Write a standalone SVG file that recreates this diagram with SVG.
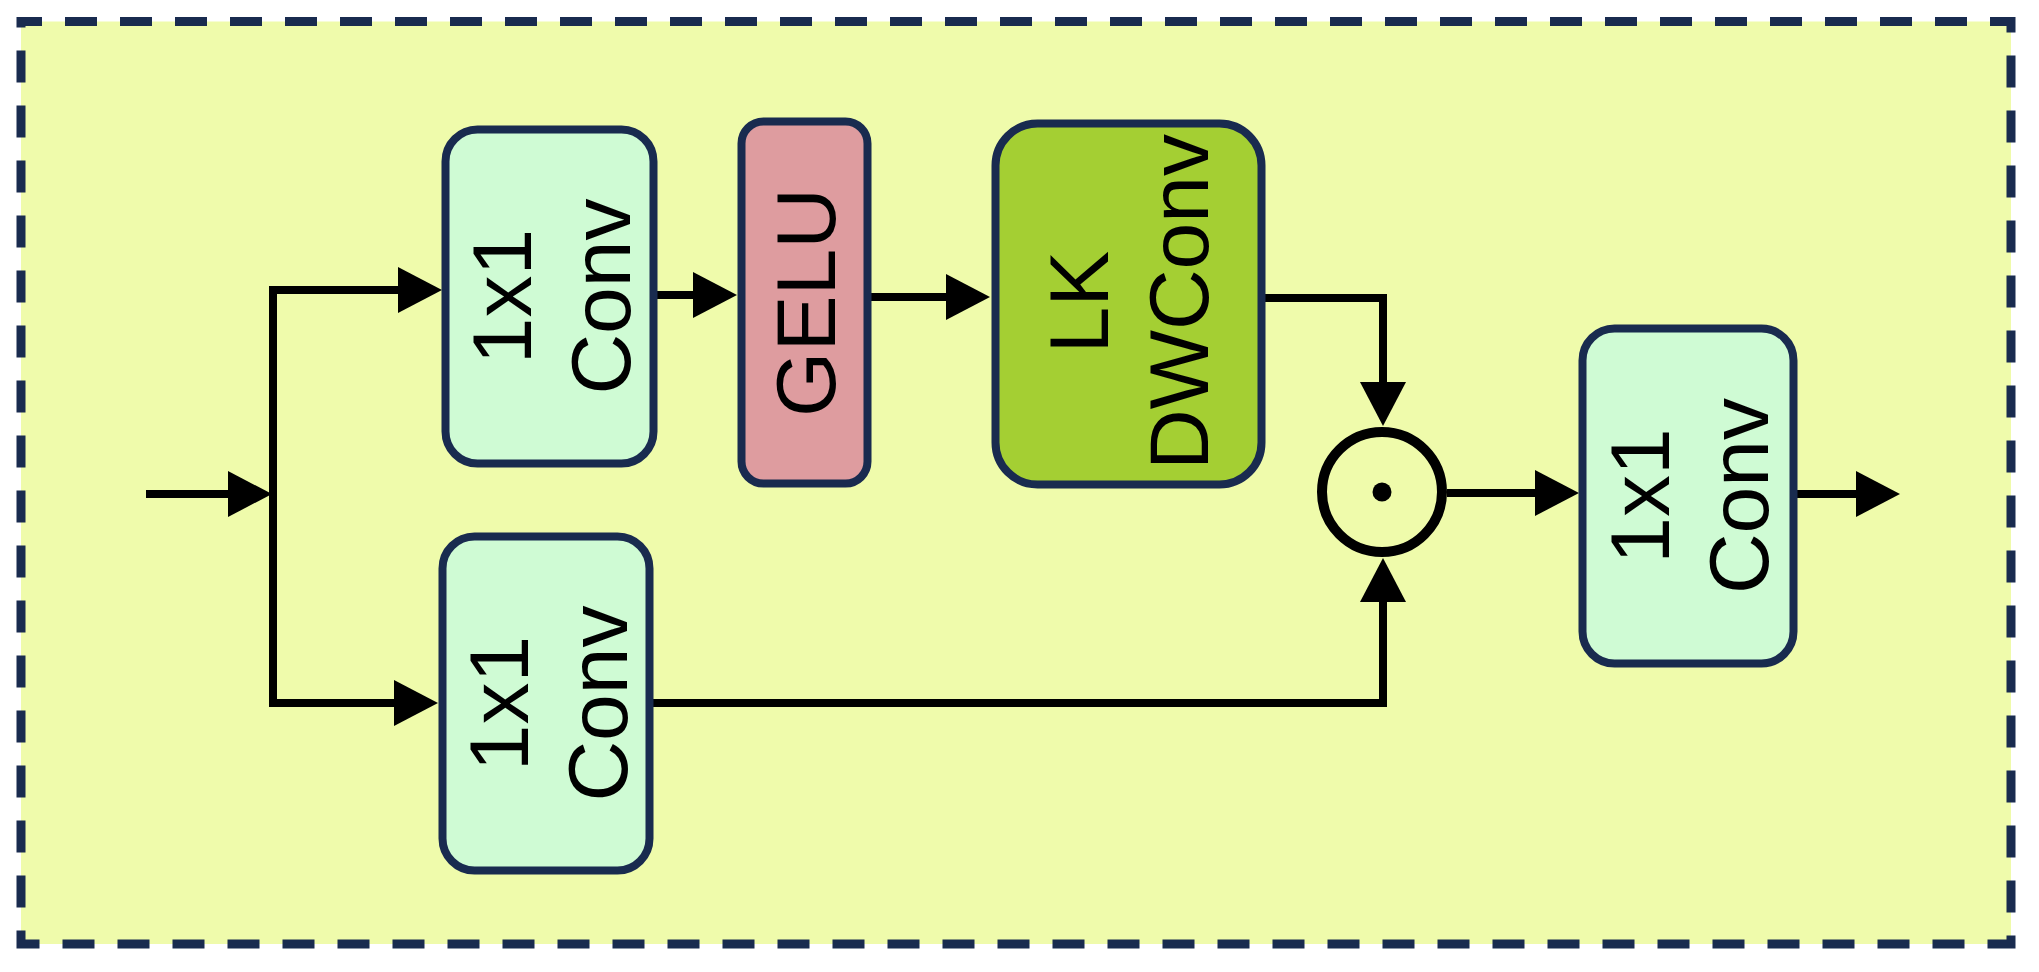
<svg xmlns="http://www.w3.org/2000/svg" width="2039" height="972" viewBox="0 0 2039 972">
  <style>
    .frame { fill: #EFFBAB; stroke: #192B4F; stroke-width: 9; stroke-dasharray: 32 23; stroke-dashoffset: 11; }
    .box { stroke: #192B4F; stroke-width: 8; }
    .conv { fill: #CFFBD4; }
    .gelu { fill: #DE9C9F; }
    .lk { fill: #A4CF33; }
    .lbl { font-family: "Liberation Sans", Arial, sans-serif; font-size: 84px; fill: #000; text-anchor: middle; }
    .wire { fill: none; stroke: #000; stroke-width: 8; stroke-linejoin: miter; stroke-linecap: butt; }
    .op { fill: none; stroke: #000; stroke-width: 10; }
  </style>
  <defs>
    <marker id="ah" viewBox="0 0 44 46" refX="24" refY="23" markerWidth="44" markerHeight="46" markerUnits="userSpaceOnUse" orient="auto-start-reverse">
      <path d="M0,0 L44,23 L0,46 Z" fill="#000"/>
    </marker>
  </defs>

  <rect id="frame" class="frame" x="21" y="21.5" width="1990" height="922.5"/>

  <g id="connectors">
    <path class="wire" d="M146,494 H252" marker-end="url(#ah)"/>
    <path class="wire" d="M422,290 H273 V703 H418" marker-start="url(#ah)" marker-end="url(#ah)"/>
    <path class="wire" d="M657,295 H717" marker-end="url(#ah)"/>
    <path class="wire" d="M871,297 H970" marker-end="url(#ah)"/>
    <path class="wire" d="M1265,298 H1383 V406" marker-end="url(#ah)"/>
    <path class="wire" d="M653,703 H1383 V578" marker-end="url(#ah)"/>
    <path class="wire" d="M1447,493 H1559" marker-end="url(#ah)"/>
    <path class="wire" d="M1797,494 H1880" marker-end="url(#ah)"/>
  </g>

  <g id="conv1">
    <rect class="box conv" x="445.5" y="129.5" width="208" height="334" rx="32"/>
    <text class="lbl" transform="translate(549.5,296.5) rotate(-90)"><tspan x="0" y="-18.5">1x1</tspan><tspan x="0" y="80.5">Conv</tspan></text>
  </g>

  <g id="gelu">
    <rect class="box gelu" x="741.5" y="121.5" width="126" height="362" rx="22"/>
    <text class="lbl" transform="translate(804.5,302.5) rotate(-90)"><tspan x="0" y="30">GELU</tspan></text>
  </g>

  <g id="lkdwconv">
    <rect class="box lk" x="995.5" y="123.5" width="266" height="361" rx="42"/>
    <text class="lbl" transform="translate(1128.5,302) rotate(-90)"><tspan x="0" y="-20.5">LK</tspan><tspan x="0" y="79.5">DWConv</tspan></text>
  </g>

  <g id="conv2">
    <rect class="box conv" x="442.5" y="536.5" width="207" height="334" rx="32"/>
    <text class="lbl" transform="translate(546,703.5) rotate(-90)"><tspan x="0" y="-18">1x1</tspan><tspan x="0" y="81">Conv</tspan></text>
  </g>

  <g id="multiply">
    <circle class="op" cx="1382" cy="492" r="60"/>
    <circle cx="1382" cy="492" r="9.5" fill="#000"/>
  </g>

  <g id="conv3">
    <rect class="box conv" x="1582.5" y="328.5" width="211" height="335" rx="32"/>
    <text class="lbl" transform="translate(1688,496) rotate(-90)"><tspan x="0" y="-19">1x1</tspan><tspan x="0" y="80">Conv</tspan></text>
  </g>
</svg>
